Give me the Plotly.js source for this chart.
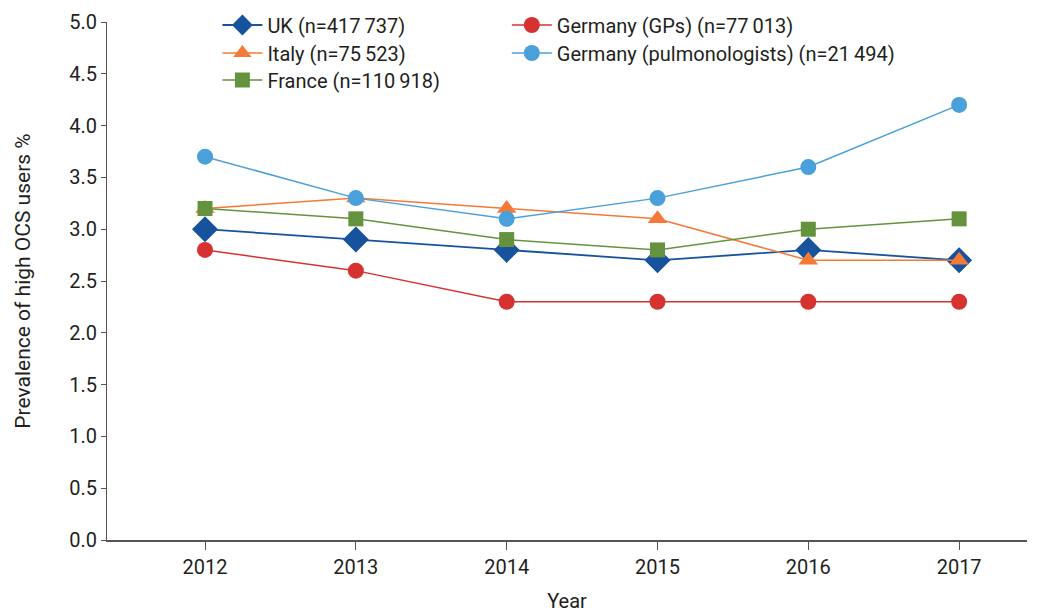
<!DOCTYPE html>
<html>
<head>
<meta charset="utf-8">
<script src="https://cdn.plot.ly/plotly-3.0.1.min.js"></script>
<style>html,body{margin:0;padding:0;background:#fff;}#chart{width:1037px;height:613px;}</style>
</head>
<body>
<div id="chart"></div>
<script>
const years = [2012, 2013, 2014, 2015, 2016, 2017];
const seriesNames = ["UK (n=417\u2009737)", "Germany (GPs) (n=77\u2009013)", "Italy (n=75\u2009523)", "Germany (pulmonologists) (n=21\u2009494)", "France (n=110\u2009918)"];
const ukValues = [3.0, 2.9, 2.8, 2.7, 2.8, 2.7];
const germanyGPValues = [2.8, 2.6, 2.3, 2.3, 2.3, 2.3];
const italyValues = [3.2, 3.3, 3.2, 3.1, 2.7, 2.7];
const germanyPulmValues = [3.7, 3.3, 3.1, 3.3, 3.6, 4.2];
const franceValues = [3.2, 3.1, 2.9, 2.8, 3.0, 3.1];
const yTicks = [0, 0.5, 1, 1.5, 2, 2.5, 3, 3.5, 4, 4.5, 5];

const FONT = 'Roboto, "DejaVu Sans", sans-serif';
const TXT = '#231f20';

function tr(name, y, color, symbol, size, lw, legend) {
  return {
    x: years, y: y, name: name, type: 'scatter', mode: 'lines+markers',
    legend: legend,
    line: {color: color, width: lw},
    marker: {color: color, symbol: symbol, size: size, line: {width: 0}}
  };
}

const data = [
  tr(seriesNames[0], ukValues, '#17529c', 'diamond', 20, 1.8, 'legend'),
  tr(seriesNames[1], germanyGPValues, '#d63230', 'circle', 16, 1.5, 'legend2'),
  tr(seriesNames[2], italyValues, '#f47a38', 'triangle-up', 17, 1.5, 'legend3'),
  tr(seriesNames[3], germanyPulmValues, '#4aa0db', 'circle', 16, 1.5, 'legend4'),
  tr(seriesNames[4], franceValues, '#65933d', 'square', 15, 1.5, 'legend5')
];

function leg(x, y) {
  return {
    orientation: 'v', x: x, y: y, yanchor: 'middle', xanchor: 'left',
    font: {family: FONT, size: 20, color: TXT},
    bgcolor: 'rgba(0,0,0,0)', tracegroupgap: 0, itemwidth: 40
  };
}
const col1 = 0.12, col2 = 0.4346;
const row1 = 0.9942, row2 = 0.9402, row3 = 0.888;

const layout = {
  width: 1037, height: 613,
  margin: {l: 107, r: 10, t: 22, b: 73, autoexpand: false},
  paper_bgcolor: '#fff', plot_bgcolor: '#fff',
  font: {family: FONT, size: 20, color: TXT},
  showlegend: true,
  legend: leg(col1, row1),
  legend2: leg(col2, row1),
  legend3: leg(col1, row2),
  legend4: leg(col2, row2),
  legend5: leg(col1, row3),
  xaxis: {
    range: [2011.35, 2017.45], tickvals: years, ticktext: years.map(String),
    showgrid: false, zeroline: false, showline: true, linecolor: '#555', linewidth: 2,
    ticks: 'outside', ticklen: 8, tickcolor: '#555', tickwidth: 1,
    tickfont: {family: FONT, size: 20, color: TXT},
    title: {text: 'Year', font: {family: FONT, size: 20, color: TXT}, standoff: 17}
  },
  yaxis: {
    range: [0, 5], tickvals: yTicks, ticktext: yTicks.map(v => v.toFixed(1)),
    showgrid: false, zeroline: false, showline: true, linecolor: '#555', linewidth: 1,
    ticks: 'outside', ticklen: 5, tickcolor: '#555', tickwidth: 1,
    tickfont: {family: FONT, size: 20, color: TXT},
    title: {text: 'Prevalence of high OCS users %', font: {family: FONT, size: 21, color: TXT}, standoff: 32}
  }
};

Plotly.newPlot('chart', data, layout, {displayModeBar: false, staticPlot: true});
</script>
</body>
</html>
